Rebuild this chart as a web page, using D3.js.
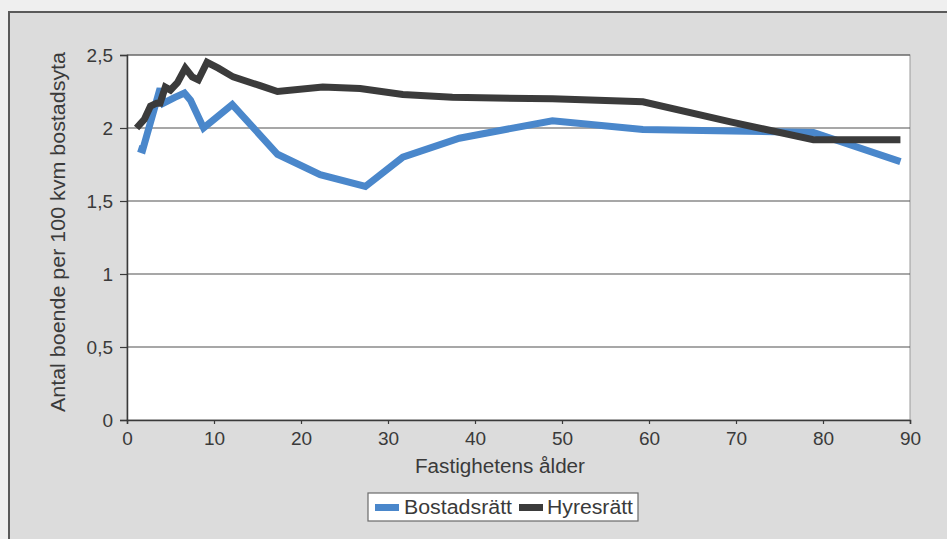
<!DOCTYPE html>
<html>
<head>
<meta charset="utf-8">
<script src="https://cdn.jsdelivr.net/npm/d3@7"></script>
<style>
  html, body { margin: 0; padding: 0; background: #efefef; }
  svg { display: block; }
</style>
</head>
<body>
<svg id="chart" width="947" height="539"></svg>
<script>
// Boende per 100 kvm bostadsyta efter fastighetens ålder
const seriesNames = ["Bostadsrätt", "Hyresrätt"];

const bostadsrattAge = [1.3, 1.8, 3.8, 4.2, 5.5, 6.6, 7.3, 8.8, 12.1, 17.3, 22.2, 27.4, 31.7, 38.2, 48.9, 59.3, 69.5, 78.9, 88.9];
const bostadsrattVal = [1.86, 1.85, 2.27, 2.17, 2.21, 2.24, 2.19, 2.00, 2.16, 1.82, 1.68, 1.60, 1.80, 1.93, 2.05, 1.99, 1.98, 1.97, 1.77];

const hyresrattAge = [1.1, 2.0, 2.7, 3.4, 3.8, 4.4, 5.0, 5.8, 6.7, 7.5, 8.2, 9.2, 10.5, 12.2, 15.3, 17.3, 22.5, 26.8, 31.7, 37.4, 48.9, 59.3, 69.5, 78.9, 88.9];
const hyresrattVal = [2.00, 2.06, 2.15, 2.17, 2.17, 2.28, 2.26, 2.31, 2.41, 2.35, 2.33, 2.45, 2.41, 2.35, 2.29, 2.25, 2.28, 2.27, 2.23, 2.21, 2.20, 2.18, 2.04, 1.92, 1.92];

const xTicks = [0, 10, 20, 30, 40, 50, 60, 70, 80, 90];
const yTicks = [0, 0.5, 1, 1.5, 2, 2.5];

const xTitle = "Fastighetens ålder";
const yTitle = "Antal boende per 100 kvm bostadsyta";

const seriesColors = ["#4a87cb", "#3b3b3b"];

const svg = d3.select("#chart");
const W = 947, H = 539;
const plot = { left: 127, right: 910, top: 55, bottom: 420 };
const font = "'Liberation Sans', Arial, sans-serif";

const sv = d3.formatLocale({ decimal: ",", thousands: " ", grouping: [3], currency: ["", " kr"] });
const fmt = sv.format("");

// outer panel
svg.append("rect").attr("x", 0).attr("y", 0).attr("width", W).attr("height", H).attr("fill", "#efefef");
svg.append("rect").attr("x", 9).attr("y", 12).attr("width", W - 8).attr("height", H - 11)
  .attr("fill", "#dcdcdc").attr("stroke", "#5a5a5a").attr("stroke-width", 2);

const x = d3.scaleLinear().domain([0, 90]).range([plot.left, plot.right]);
const y = d3.scaleLinear().domain([0, 2.5]).range([plot.bottom, plot.top]);

// plot area
svg.append("rect").attr("x", plot.left).attr("y", plot.top)
  .attr("width", plot.right - plot.left).attr("height", plot.bottom - plot.top)
  .attr("fill", "#ffffff").attr("stroke", "#9a9a9a").attr("stroke-width", 1);

// horizontal gridlines
svg.append("g").selectAll("line").data(yTicks.filter(d => d > 0)).join("line")
  .attr("x1", plot.left).attr("x2", plot.right)
  .attr("y1", d => y(d)).attr("y2", d => y(d))
  .attr("stroke", "#505050").attr("stroke-width", 1.2);

// axes
const yAxis = svg.append("g").attr("transform", `translate(${plot.left},0)`)
  .call(d3.axisLeft(y).tickValues(yTicks).tickFormat(fmt).tickSize(7).tickPadding(7));
const xAxis = svg.append("g").attr("transform", `translate(0,${plot.bottom})`)
  .call(d3.axisBottom(x).tickValues(xTicks).tickFormat(fmt).tickSize(4).tickPadding(8));
[yAxis, xAxis].forEach(a => {
  a.selectAll(".domain").attr("stroke", "#3a3a3a").attr("stroke-width", 1.5);
  a.selectAll(".tick line").attr("stroke", "#3a3a3a").attr("stroke-width", 1.2);
  a.selectAll("text").attr("font-family", font).attr("font-size", 19).attr("fill", "#3a3a3a");
});
xAxis.selectAll("text").attr("dy", "0.71em");

// series lines
const line = d3.line().x(d => x(d[0])).y(d => y(d[1])).curve(d3.curveLinear);
const series = [
  d3.zip(bostadsrattAge, bostadsrattVal),
  d3.zip(hyresrattAge, hyresrattVal)
];
svg.append("g").selectAll("path").data(series).join("path")
  .attr("d", line)
  .attr("fill", "none")
  .attr("stroke", (d, i) => seriesColors[i])
  .attr("stroke-width", 7)
  .attr("stroke-linejoin", "miter")
  .attr("stroke-miterlimit", 3);

// axis titles
svg.append("text").attr("x", 500).attr("y", 473).attr("text-anchor", "middle")
  .attr("font-family", font).attr("font-size", 20).attr("fill", "#3a3a3a")
  .attr("textLength", 170).attr("lengthAdjust", "spacingAndGlyphs")
  .text(xTitle);
svg.append("text").attr("transform", "translate(65,232) rotate(-90)").attr("text-anchor", "middle")
  .attr("font-family", font).attr("font-size", 20).attr("fill", "#3a3a3a")
  .attr("textLength", 360).attr("lengthAdjust", "spacingAndGlyphs")
  .text(yTitle);

// legend
const lg = svg.append("g");
lg.append("rect").attr("x", 368).attr("y", 493).attr("width", 270).attr("height", 28)
  .attr("fill", "#ffffff").attr("stroke", "#6a6a6a").attr("stroke-width", 1.2);
const items = [
  { sx: 375, tx: 404, tw: 108 },
  { sx: 519, tx: 547, tw: 86 }
];
items.forEach((it, i) => {
  lg.append("rect").attr("x", it.sx).attr("y", 504).attr("width", 24).attr("height", 7)
    .attr("fill", seriesColors[i]);
  lg.append("text").attr("x", it.tx).attr("y", 514)
    .attr("font-family", font).attr("font-size", 20).attr("fill", "#3a3a3a")
    .attr("textLength", it.tw).attr("lengthAdjust", "spacingAndGlyphs")
    .text(seriesNames[i]);
});
</script>
</body>
</html>
